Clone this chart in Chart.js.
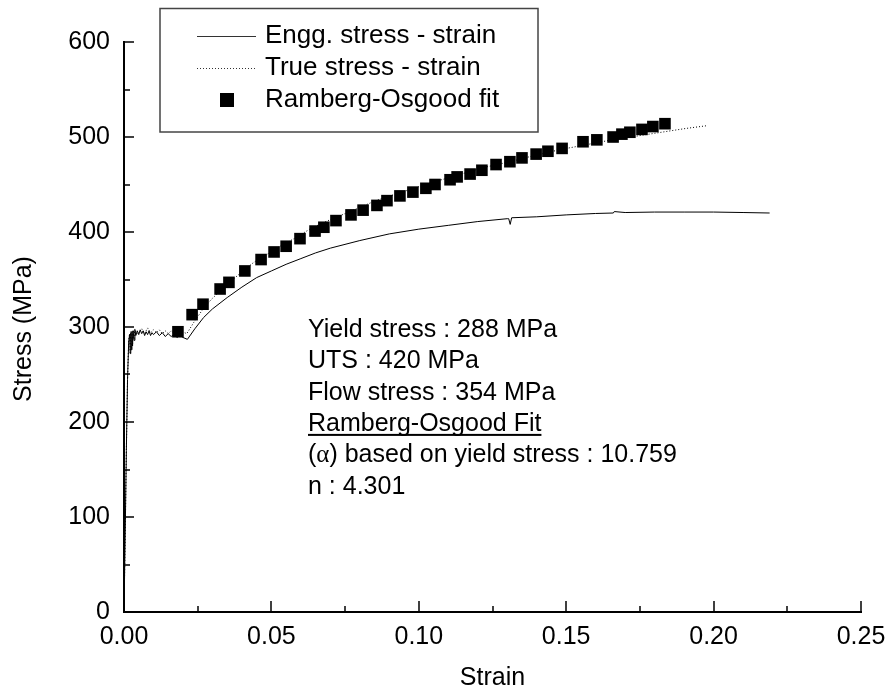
<!DOCTYPE html>
<html>
<head>
<meta charset="utf-8">
<script src="https://cdn.jsdelivr.net/npm/chart.js@4"></script>
<style>
  html, body { margin: 0; padding: 0; background: #fff; }
  #wrap { width: 889px; height: 691px; }
</style>
</head>
<body>
<div id="wrap"><canvas id="c" width="889" height="691"></canvas></div>
<script>
// values
const engStrain = [0, 0.0004, 0.0008, 0.0012, 0.0016, 0.0019, 0.0021, 0.0023, 0.0025, 0.0027,
  0.0029, 0.0031, 0.0034, 0.0037, 0.004, 0.0045, 0.005, 0.0055, 0.006, 0.0065,
  0.007, 0.0075, 0.008, 0.0085, 0.009, 0.0095, 0.010, 0.011, 0.012, 0.013,
  0.014, 0.015, 0.016, 0.017, 0.018, 0.019, 0.020, 0.0215, 0.024, 0.027,
  0.030, 0.035, 0.040, 0.045, 0.050, 0.055, 0.060, 0.065, 0.070, 0.080,
  0.090, 0.100, 0.110, 0.120, 0.130, 0.1305, 0.131, 0.1315, 0.140, 0.150,
  0.160, 0.166, 0.1663, 0.170, 0.180, 0.190, 0.200, 0.210, 0.219];
const engStress = [0, 80, 170, 245, 285, 292, 272, 294, 276, 295,
  280, 296, 286, 297, 291, 296, 292, 297, 293, 296,
  291, 295, 292, 296, 291, 294, 292, 295, 291, 294,
  290, 293, 290, 292, 289, 291, 289, 287, 298, 310,
  319, 331, 342, 352, 359, 366, 372, 378, 383, 391,
  398, 403, 407, 411, 414, 414, 408, 415, 416, 418,
  419.5, 420, 421.5, 420.5, 421, 421, 421, 420.5, 420];

const trueStrain = [0, 0.0004, 0.0008, 0.0012, 0.0016, 0.0019, 0.0021, 0.0023, 0.0025, 0.0027,
  0.0029, 0.0031, 0.0034, 0.0037, 0.004, 0.005, 0.006, 0.007, 0.008, 0.009,
  0.010, 0.011, 0.012, 0.013, 0.014, 0.015, 0.016, 0.017, 0.018, 0.019,
  0.0198, 0.0213, 0.0237, 0.0266, 0.0296, 0.0344, 0.0392, 0.0440, 0.0488, 0.0535,
  0.0583, 0.0630, 0.0677, 0.0770, 0.0862, 0.0953, 0.1044, 0.1133, 0.1222, 0.1310,
  0.1398, 0.1484, 0.1570, 0.1655, 0.1740, 0.1823, 0.1906, 0.1980];
const trueStress = [0, 80, 170, 245, 286, 293, 273, 295, 277, 296,
  281, 297, 287, 298, 292, 294, 298, 293, 299, 294,
  297, 294, 297, 293, 296, 293, 296, 293, 295, 294,
  295, 293, 305, 318, 329, 343, 356, 368, 377, 386,
  394, 403, 410, 422, 434, 443, 452, 460, 468, 474,
  481, 487, 492, 497, 501, 505, 509, 512];

const roStrain = [0.0183, 0.0231, 0.0268, 0.0326, 0.0356, 0.0410, 0.0465, 0.0509, 0.0550, 0.0597,
  0.0648, 0.0678, 0.0719, 0.0770, 0.0811, 0.0858, 0.0892, 0.0936, 0.0980, 0.1024,
  0.1055, 0.1106, 0.1130, 0.1174, 0.1214, 0.1262, 0.1309, 0.1350, 0.1398, 0.1438,
  0.1486, 0.1557, 0.1604, 0.1659, 0.1689, 0.1716, 0.1757, 0.1794, 0.1835];
const roStress = [295, 313, 324, 340, 347, 359, 371, 379, 385, 393,
  401, 405, 412, 418, 423, 428, 433, 438, 442, 446,
  450, 455, 458, 461, 465, 471, 474, 478, 482, 485,
  488, 495, 497, 500, 503, 505, 508, 511, 514];

const xTicks = [0, 0.05, 0.10, 0.15, 0.20, 0.25];
const xMinor = [0.025, 0.075, 0.125, 0.175, 0.225];
const yTicks = [0, 100, 200, 300, 400, 500, 600];
const yMinor = [50, 150, 250, 350, 450, 550];

const notes = [
  "Yield stress : 288 MPa",
  "UTS : 420 MPa",
  "Flow stress : 354 MPa",
  "Ramberg-Osgood Fit",
  "(\u03b1) based on yield stress : 10.759",
  "n : 4.301"
];

const FONT = '"Liberation Sans", Arial, sans-serif';
Chart.defaults.font.family = FONT;
Chart.defaults.color = "#000";

const pts = (xs, ys) => xs.map((v, i) => ({ x: v, y: ys[i] }));

// axes ticks (inward), legend box, text block and axis titles
const decor = {
  id: "decor",
  afterDraw(chart) {
    const { ctx, chartArea: a, scales: { x, y } } = chart;
    ctx.save();
    ctx.strokeStyle = "#000";
    ctx.lineWidth = 1.5;
    const yt = (v, len) => {
      const p = Math.round(y.getPixelForValue(v));
      ctx.beginPath(); ctx.moveTo(a.left, p); ctx.lineTo(a.left + len, p); ctx.stroke();
    };
    const xt = (v, len) => {
      const p = Math.round(x.getPixelForValue(v));
      ctx.beginPath(); ctx.moveTo(p, a.bottom); ctx.lineTo(p, a.bottom - len); ctx.stroke();
    };
    yTicks.forEach(v => yt(v, 10)); yMinor.forEach(v => yt(v, 6));
    xTicks.forEach(v => xt(v, 11)); xMinor.forEach(v => xt(v, 6));

    // axis titles
    ctx.fillStyle = "#000";
    ctx.font = "25px " + FONT;
    ctx.textAlign = "center"; ctx.textBaseline = "middle";
    ctx.fillText("Strain", (a.left + a.right) / 2, 678);
    ctx.save();
    ctx.translate(24, 329); ctx.rotate(-Math.PI / 2);
    ctx.fillText("Stress (MPa)", 0, 0);
    ctx.restore();

    // legend
    const ds = chart.data.datasets;
    ctx.strokeStyle = "#444"; ctx.lineWidth = 1.5;
    ctx.strokeRect(160, 8.5, 378, 123.5);
    const rows = [36, 68, 100];
    ctx.font = "26px " + FONT;
    ctx.textAlign = "left";
    ds.forEach((d, i) => ctx.fillText(d.label, 265, rows[i]));
    ctx.lineWidth = 1;
    ctx.strokeStyle = "#333";
    ctx.beginPath(); ctx.moveTo(197, rows[0] + 0.5); ctx.lineTo(256, rows[0] + 0.5); ctx.stroke();
    ctx.setLineDash([1, 2]);
    ctx.beginPath(); ctx.moveTo(197, rows[1] + 0.5); ctx.lineTo(256, rows[1] + 0.5); ctx.stroke();
    ctx.setLineDash([]);
    ctx.fillStyle = "#000";
    ctx.fillRect(220, rows[2] - 7, 14, 14);

    // notes
    ctx.font = "25px " + FONT;
    ctx.textBaseline = "alphabetic";
    const nx = 308;
    notes.forEach((t, i) => {
      const by = 337 + i * 31.3;
      if (t.startsWith("(\u03b1)")) {
        let cx = nx;
        ctx.font = "25px " + FONT;
        ctx.fillText("(", cx, by); cx += ctx.measureText("(").width;
        ctx.font = "25px \"Liberation Serif\", \"DejaVu Serif\", serif";
        ctx.fillText("\u03b1", cx, by); cx += ctx.measureText("\u03b1").width;
        ctx.font = "25px " + FONT;
        ctx.fillText(t.slice(2), cx, by);
      } else {
        ctx.fillText(t, nx, by);
      }
      if (i === 3) {
        const w = ctx.measureText(t).width;
        ctx.fillRect(nx, by + 3, w, 2);
      }
    });
    ctx.restore();
  }
};

new Chart(document.getElementById("c"), {
  type: "scatter",
  data: {
    datasets: [
      { label: "Engg. stress - strain", data: pts(engStrain, engStress), showLine: true,
        borderColor: "#000", borderWidth: 1, pointRadius: 0, order: 3 },
      { label: "True stress - strain", data: pts(trueStrain, trueStress), showLine: true,
        borderColor: "#000", borderWidth: 1, borderDash: [1, 2], pointRadius: 0, order: 2 },
      { label: "Ramberg-Osgood fit", data: pts(roStrain, roStress), showLine: false,
        pointStyle: "rect", pointRadius: 8.2, backgroundColor: "#000", borderColor: "#000",
        borderWidth: 0, order: 1 }
    ]
  },
  options: {
    responsive: false,
    animation: false,
    devicePixelRatio: 1,
    layout: { padding: { left: 0, top: 42, right: 28, bottom: 0 } },
    plugins: { legend: { display: false }, tooltip: { enabled: false } },
    scales: {
      x: {
        type: "linear", min: 0, max: 0.25,
        grid: { display: false, drawTicks: false },
        border: { display: true, color: "#000", width: 2 },
        afterBuildTicks: s => { s.ticks = xTicks.map(v => ({ value: v })); },
        afterFit: s => { s.height = 79; s.paddingLeft = 0; s.paddingRight = 0; },
        ticks: { font: { size: 25 }, color: "#000", padding: 10,
          maxRotation: 0, autoSkip: false, callback: v => Number(v).toFixed(2) }
      },
      y: {
        type: "linear", min: 0, max: 600,
        grid: { display: false, drawTicks: false },
        border: { display: true, color: "#000", width: 2 },
        afterBuildTicks: s => { s.ticks = yTicks.map(v => ({ value: v })); },
        afterFit: s => { s.width = 124; s.paddingTop = 0; s.paddingBottom = 0; },
        ticks: { font: { size: 25 }, color: "#000", padding: 14, autoSkip: false }
      }
    }
  },
  plugins: [decor]
});
</script>
</body>
</html>
